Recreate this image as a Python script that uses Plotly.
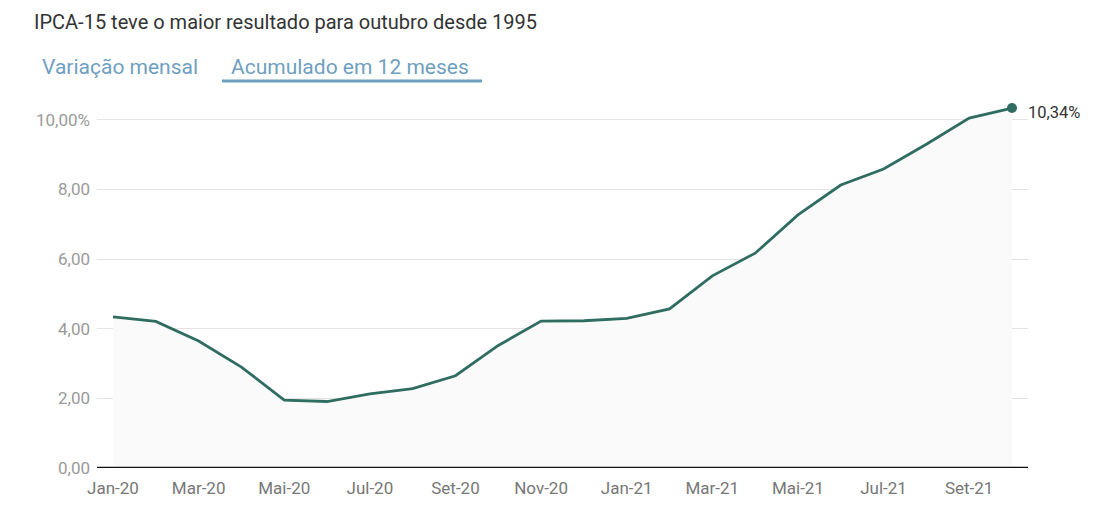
import plotly.graph_objs as go

meses = ["Jan-20", "Fev-20", "Mar-20", "Abr-20", "Mai-20", "Jun-20", "Jul-20", "Ago-20",
         "Set-20", "Out-20", "Nov-20", "Dez-20", "Jan-21", "Fev-21", "Mar-21", "Abr-21",
         "Mai-21", "Jun-21", "Jul-21", "Ago-21", "Set-21", "Out-21"]
acumulado = [4.34, 4.21, 3.65, 2.90, 1.95, 1.91, 2.13, 2.28, 2.65, 3.52, 4.22, 4.23,
             4.30, 4.57, 5.52, 6.17, 7.27, 8.13, 8.59, 9.30, 10.05, 10.34]

y_ticks = [0, 2, 4, 6, 8, 10]
y_labels = ["0,00", "2,00", "4,00", "6,00", "8,00", "10,00%"]

idx = list(range(len(meses)))
line_color = "#2f6d60"
tab_color = "#6f9fc0"

# page body has an 8px margin, so the figure is laid out in 1096x499
W, H = 1096, 499
L, R, T, B = 89, 76, 91, 39
pw, ph = W - L - R, H - T - B


def px(x):
    return (x - 8 - L) / pw


def py(y):
    return (H - B - (y - 8)) / ph


fig = go.Figure()

fig.add_trace(
    go.Scatter(
        x=idx,
        y=acumulado,
        mode="lines",
        line=dict(color=line_color, width=2.8),
        fill="tozeroy",
        fillcolor="#fafafa",
        hoverinfo="skip",
        showlegend=False
    )
)

fig.add_trace(
    go.Scatter(
        x=[idx[-1]],
        y=[acumulado[-1]],
        mode="markers",
        marker=dict(color=line_color, size=10),
        cliponaxis=False,
        hoverinfo="skip",
        showlegend=False
    )
)

fig.update_layout(
    width=W,
    height=H,
    margin=dict(l=L, r=R, t=T, b=B),
    paper_bgcolor="white",
    plot_bgcolor="white",
    font=dict(family="Roboto", color="#888888", size=17),
    xaxis=dict(
        range=[-0.374, 21.374],
        tickvals=idx[::2],
        ticktext=meses[::2],
        showgrid=False,
        zeroline=False,
        ticks="",
        ticklabelstandoff=8,
        automargin=False,
        tickfont=dict(size=17, color="#777777"),
        fixedrange=True
    ),
    yaxis=dict(
        range=[0, 10.6],
        tickvals=y_ticks,
        ticktext=y_labels,
        showgrid=True,
        gridcolor="#e3e3e3",
        gridwidth=1,
        zeroline=False,
        ticks="",
        ticklabelstandoff=6,
        automargin=False,
        tickfont=dict(size=17, color="#9a9a9a"),
        fixedrange=True
    ),
    shapes=[
        dict(type="line", xref="paper", yref="y", x0=0, x1=1, y0=0, y1=0,
             line=dict(color="#111111", width=2.5)),
        dict(type="line", xref="paper", yref="paper", x0=px(222), x1=px(482),
             y0=py(81), y1=py(81),
             line=dict(color=tab_color, width=3))
    ],
    annotations=[
        dict(text="10,34%",
             xref="x", yref="y", x=idx[-1], y=acumulado[-1],
             xanchor="left", yanchor="middle", xshift=14, yshift=-4, showarrow=False,
             font=dict(family="Roboto", size=16.5, color="#333333")),
        dict(text="IPCA-15 teve o maior resultado para outubro desde 1995",
             xref="paper", yref="paper", x=px(32), y=py(8),
             xanchor="left", yanchor="top", showarrow=False,
             font=dict(family="Roboto", size=20, color="#333333")),
        dict(text="Variação mensal",
             xref="paper", yref="paper", x=px(40), y=py(67),
             xanchor="left", yanchor="middle", showarrow=False,
             font=dict(family="Roboto", size=21, color=tab_color)),
        dict(text="Acumulado em 12 meses",
             xref="paper", yref="paper", x=px(229), y=py(67),
             xanchor="left", yanchor="middle", showarrow=False,
             font=dict(family="Roboto", size=21, color=tab_color))
    ]
)

fig.write_html("out.html")
